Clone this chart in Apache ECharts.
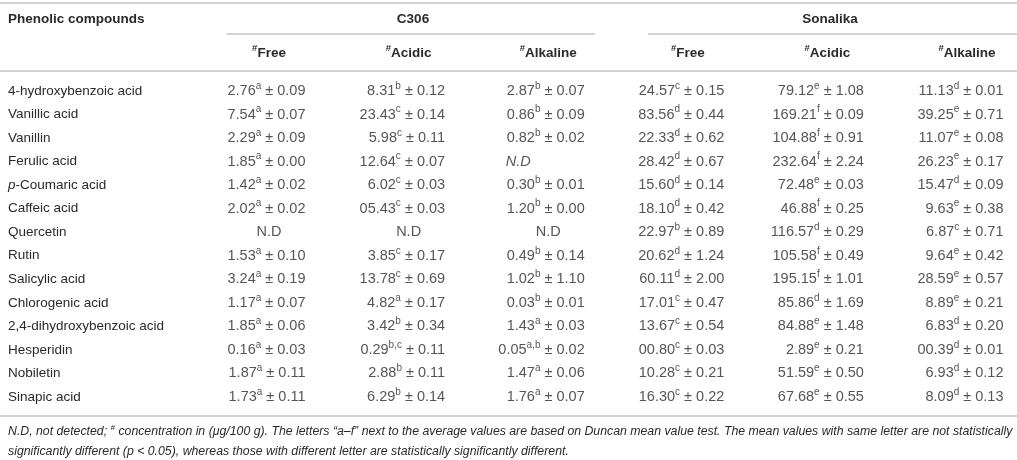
<!DOCTYPE html>
<html>
<head>
<meta charset="utf-8">
<script src="https://cdn.jsdelivr.net/npm/echarts@6/dist/echarts.min.js"></script>
<style>
  html, body { margin: 0; padding: 0; background: #fff; }
  #main { width: 1017px; height: 460px; }
</style>
</head>
<body>
<div id="main"></div>
<script>
// rows of the table
var compounds = ['4-hydroxybenzoic acid', 'Vanillic acid', 'Vanillin', 'Ferulic acid', 'p-Coumaric acid',
    'Caffeic acid', 'Quercetin', 'Rutin', 'Salicylic acid', 'Chlorogenic acid',
    '2,4-dihydroxybenzoic acid', 'Hesperidin', 'Nobiletin', 'Sinapic acid'];

// column headers
var columns = ['Free', 'Acidic', 'Alkaline', 'Free', 'Acidic', 'Alkaline'];
var groups = ['C306', 'Sonalika'];

// cell values: mean|letter|sd  ("N.D" = not detected, "*N.D" = italic)
var c306Free = ['2.76|a|0.09', '7.54|a|0.07', '2.29|a|0.09', '1.85|a|0.00', '1.42|a|0.02', '2.02|a|0.02', 'N.D',
    '1.53|a|0.10', '3.24|a|0.19', '1.17|a|0.07', '1.85|a|0.06', '0.16|a|0.03', '1.87|a|0.11', '1.73|a|0.11'];
var c306Acidic = ['8.31|b|0.12', '23.43|c|0.14', '5.98|c|0.11', '12.64|c|0.07', '6.02|c|0.03', '05.43|c|0.03', 'N.D',
    '3.85|c|0.17', '13.78|c|0.69', '4.82|a|0.17', '3.42|b|0.34', '0.29|b,c|0.11', '2.88|b|0.11', '6.29|b|0.14'];
var c306Alkaline = ['2.87|b|0.07', '0.86|b|0.09', '0.82|b|0.02', '*N.D', '0.30|b|0.01', '1.20|b|0.00', 'N.D',
    '0.49|b|0.14', '1.02|b|1.10', '0.03|b|0.01', '1.43|a|0.03', '0.05|a,b|0.02', '1.47|a|0.06', '1.76|a|0.07'];
var sonFree = ['24.57|c|0.15', '83.56|d|0.44', '22.33|d|0.62', '28.42|d|0.67', '15.60|d|0.14', '18.10|d|0.42', '22.97|b|0.89',
    '20.62|d|1.24', '60.11|d|2.00', '17.01|c|0.47', '13.67|c|0.54', '00.80|c|0.03', '10.28|c|0.21', '16.30|c|0.22'];
var sonAcidic = ['79.12|e|1.08', '169.21|f|0.09', '104.88|f|0.91', '232.64|f|2.24', '72.48|e|0.03', '46.88|f|0.25', '116.57|d|0.29',
    '105.58|f|0.49', '195.15|f|1.01', '85.86|d|1.69', '84.88|e|1.48', '2.89|e|0.21', '51.59|e|0.50', '67.68|e|0.55'];
var sonAlkaline = ['11.13|d|0.01', '39.25|e|0.71', '11.07|e|0.08', '26.23|e|0.17', '15.47|d|0.09', '9.63|e|0.38', '6.87|c|0.71',
    '9.64|e|0.42', '28.59|e|0.57', '8.89|e|0.21', '6.83|d|0.20', '00.39|d|0.01', '6.93|d|0.12', '8.09|d|0.13'];

var cellColumns = [c306Free, c306Acidic, c306Alkaline, sonFree, sonAcidic, sonAlkaline];

var FONT = '"Liberation Sans", Arial, Helvetica, sans-serif';
var INK = '#2a2a2a';
var RULE = '#c4c4c4';
var FS = 14.5;   // cell values
var NS = 13.5;   // row names / headers
var NOTE = 12.3; // footnote

var cellRich = {
    n: { fontSize: FS, lineHeight: 20, color: INK, fontFamily: FONT },
    s: { fontSize: 10, lineHeight: 14, verticalAlign: 'top', color: INK, fontFamily: FONT },
    i: { fontSize: FS, lineHeight: 20, color: INK, fontFamily: FONT, fontStyle: 'italic' }
};

function cellText(v) {
    if (v === 'N.D') return '{n|N.D}';
    if (v === '*N.D') return '{i|N.D}';
    var p = v.split('|');
    return '{n|' + p[0] + '}{s|' + p[1] + '}{n| \u00b1 ' + p[2] + '}';
}

function buildSeries() {
    var series = [];
    cellColumns.forEach(function(col, c) {
        var data = col.map(function(v, r) {
            var item = { value: [c, r], raw: v };
            if (v === 'N.D') {
                item.label = { position: 'left', distance: 24 };
            } else if (v === '*N.D') {
                item.label = { position: 'left', distance: 54 };
            }
            return item;
        });
        series.push({
            type: 'scatter',
            symbolSize: 1,
            itemStyle: { color: 'rgba(0,0,0,0)' },
            silent: true,
            data: data,
            label: {
                show: true,
                position: 'left',
                distance: 0,
                formatter: function(p) { return cellText(p.data.raw); },
                rich: cellRich
            }
        });
    });
    return series;
}

var myChart = echarts.init(document.getElementById('main'), null, { renderer: 'canvas' });
myChart.setOption({
    animation: false,
    grid: { left: 306, right: 13, top: 91, bottom: 63 },
    xAxis: {
        type: 'category',
        position: 'top',
        boundaryGap: false,
        data: columns,
        axisLine: { show: false },
        axisTick: { show: false },
        splitLine: { show: false },
        axisLabel: {
            interval: 0,
            margin: 28,
            padding: [0, 74, 0, 0],
            formatter: function(v) { return '{hs|#}{h|' + v + '}'; },
            rich: {
                h: { fontSize: NS, fontWeight: 'bold', lineHeight: 20, color: INK, fontFamily: FONT },
                hs: { fontSize: 9.5, fontWeight: 'bold', lineHeight: 14, verticalAlign: 'top', color: INK, fontFamily: FONT }
            }
        }
    },
    yAxis: {
        type: 'category',
        inverse: true,
        boundaryGap: false,
        data: compounds,
        axisLine: { show: false },
        axisTick: { show: false },
        splitLine: { show: false },
        axisLabel: {
            interval: 0,
            align: 'left',
            margin: 298,
            formatter: function(v) {
                if (v.indexOf('p-') === 0) return '{i|p}{r|' + v.slice(1) + '}';
                return '{r|' + v + '}';
            },
            rich: {
                r: { fontSize: NS, color: INK, fontFamily: FONT },
                i: { fontSize: NS, color: INK, fontFamily: FONT, fontStyle: 'italic' }
            }
        }
    },
    graphic: [
        { type: 'line', shape: { x1: 0, y1: 3, x2: 1017, y2: 3 }, style: { stroke: RULE, lineWidth: 1.5 } },
        { type: 'line', shape: { x1: 227, y1: 34, x2: 595, y2: 34 }, style: { stroke: RULE, lineWidth: 1.5 } },
        { type: 'line', shape: { x1: 648, y1: 34, x2: 1017, y2: 34 }, style: { stroke: RULE, lineWidth: 1.5 } },
        { type: 'line', shape: { x1: 0, y1: 71, x2: 1017, y2: 71 }, style: { stroke: RULE, lineWidth: 1.5 } },
        { type: 'line', shape: { x1: 0, y1: 416, x2: 1017, y2: 416 }, style: { stroke: RULE, lineWidth: 1.5 } },
        { type: 'text', x: 8, y: 19, style: { text: 'Phenolic compounds', fill: INK, font: 'bold ' + NS + 'px ' + FONT, textVerticalAlign: 'middle' } },
        { type: 'text', x: 413, y: 19, style: { text: groups[0], fill: INK, font: 'bold ' + NS + 'px ' + FONT, textAlign: 'center', textVerticalAlign: 'middle' } },
        { type: 'text', x: 830, y: 19, style: { text: groups[1], fill: INK, font: 'bold ' + NS + 'px ' + FONT, textAlign: 'center', textVerticalAlign: 'middle' } },
        {
            type: 'text', x: 8, y: 432,
            style: {
                text: '{t|N.D, not detected; }{s|#}{t| concentration in (\u03bcg/100 g). The letters \u201ca\u2013f\u201d next to the average values are based on Duncan mean value test. The mean values with same letter are not statistically}',
                textVerticalAlign: 'middle',
                rich: {
                    t: { fontSize: NOTE, lineHeight: 16, fontStyle: 'italic', fill: INK, fontFamily: FONT },
                    s: { fontSize: 8, lineHeight: 12, verticalAlign: 'top', fontStyle: 'italic', fill: INK, fontFamily: FONT }
                }
            }
        },
        {
            type: 'text', x: 8, y: 452,
            style: {
                text: '{t|significantly different (p < 0.05), whereas those with different letter are statistically significantly different.}',
                textVerticalAlign: 'middle',
                rich: {
                    t: { fontSize: NOTE, lineHeight: 16, fontStyle: 'italic', fill: INK, fontFamily: FONT }
                }
            }
        }
    ],
    series: buildSeries()
});
</script>
</body>
</html>
